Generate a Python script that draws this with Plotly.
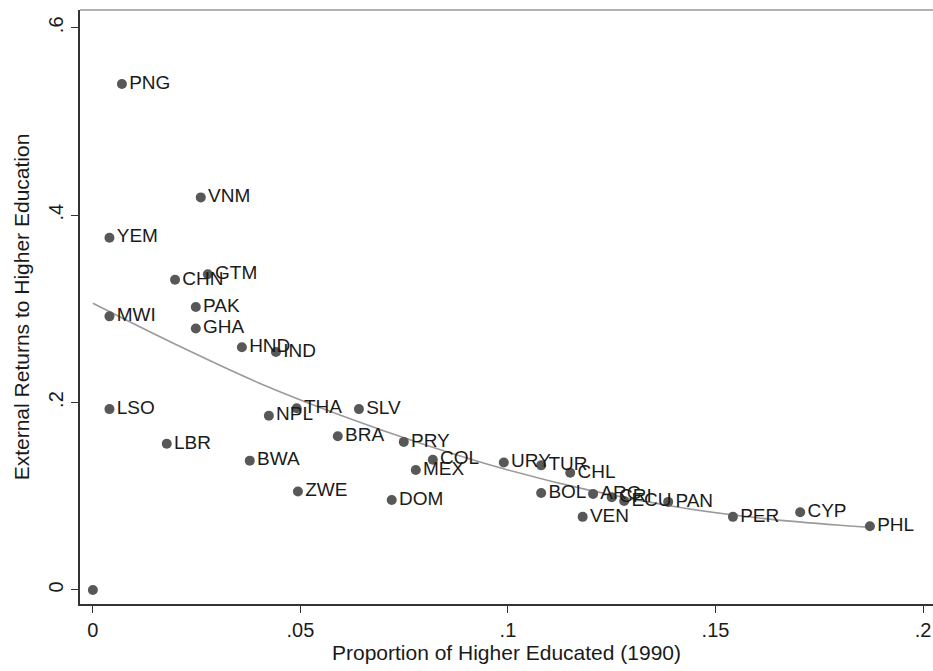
import plotly.graph_objects as go

# Country codes, share of higher educated (1990) and external returns
countries = ["", "PNG", "VNM", "YEM", "CHN", "GTM", "PAK", "MWI", "GHA", "HND", "IND",
             "LSO", "LBR", "BWA", "NPL", "THA", "SLV", "BRA", "PRY", "COL", "MEX",
             "ZWE", "DOM", "URY", "TUR", "CHL", "BOL", "ARG", "CRI", "VEN", "ECU",
             "PAN", "PER", "CYP", "PHL"]
share_higher = [0.000, 0.007, 0.026, 0.004, 0.0198, 0.0277, 0.0248, 0.004, 0.0248, 0.0359, 0.0441,
                0.004, 0.0178, 0.0378, 0.0424, 0.0491, 0.0641, 0.059, 0.0749, 0.0819, 0.0778,
                0.0494, 0.072, 0.099, 0.108, 0.115, 0.108, 0.1205, 0.125, 0.118, 0.128,
                0.1386, 0.1542, 0.1704, 0.1872]
ext_returns = [0.000, 0.540, 0.419, 0.376, 0.331, 0.337, 0.302, 0.292, 0.279, 0.259, 0.254,
               0.193, 0.156, 0.138, 0.186, 0.194, 0.193, 0.164, 0.158, 0.139, 0.128,
               0.105, 0.096, 0.136, 0.133, 0.125, 0.1035, 0.1025, 0.099, 0.078, 0.095,
               0.094, 0.078, 0.083, 0.068]

# Fitted curve through the scatter
fit_x = [0.0, 0.02, 0.04, 0.06, 0.08, 0.10, 0.12, 0.14, 0.16, 0.18, 0.187]
fit_y = [0.306, 0.262, 0.221, 0.186, 0.155, 0.128, 0.106, 0.089, 0.077, 0.069, 0.067]

x_ticks = [0, 0.05, 0.1, 0.15, 0.2]
x_tick_labels = ["0", ".05", ".1", ".15", ".2"]
y_ticks = [0, 0.2, 0.4, 0.6]
y_tick_labels = ["0", ".2", ".4", ".6"]

FONT = "Liberation Sans, Arial, sans-serif"

fig = go.Figure()
fig.add_trace(go.Scatter(
    x=fit_x, y=fit_y, mode="lines", line_shape="spline",
    line=dict(color="#9a9a9a", width=1.6), hoverinfo="skip", showlegend=False,
))
fig.add_trace(go.Scatter(
    x=share_higher, y=ext_returns, mode="markers+text", text=countries,
    textposition="middle right",
    textfont=dict(family=FONT, size=19, color="#1a1a1a"),
    marker=dict(size=10, color="#585858"), showlegend=False,
))

fig.update_layout(
    width=933, height=671,
    margin=dict(l=80, r=0, t=10, b=67),
    paper_bgcolor="white", plot_bgcolor="white",
    font=dict(family=FONT, color="#1a1a1a"),
    xaxis=dict(
        range=[-0.0031, 0.2024], tickvals=x_ticks, ticktext=x_tick_labels,
        showgrid=False, zeroline=False, showline=True, linecolor="#333333", linewidth=1.6,
        ticks="outside", ticklen=7, tickcolor="#333333", tickfont=dict(size=20),
        title=dict(text="Proportion of Higher Educated (1990)", font=dict(size=21), standoff=5),
    ),
    yaxis=dict(
        range=[-0.015, 0.619], tickvals=y_ticks, ticktext=y_tick_labels, tickangle=-90,
        showgrid=False, zeroline=False, showline=True, linecolor="#333333", linewidth=1.6,
        ticks="outside", ticklen=7, tickcolor="#333333", tickfont=dict(size=20),
        title=dict(text="External Returns to Higher Education", font=dict(size=21), standoff=10),
    ),
    shapes=[dict(type="line", xref="paper", yref="paper", x0=0, x1=1, y0=1, y1=1,
                 line=dict(color="#999999", width=1.6))],
)

fig.write_html("out.html")
